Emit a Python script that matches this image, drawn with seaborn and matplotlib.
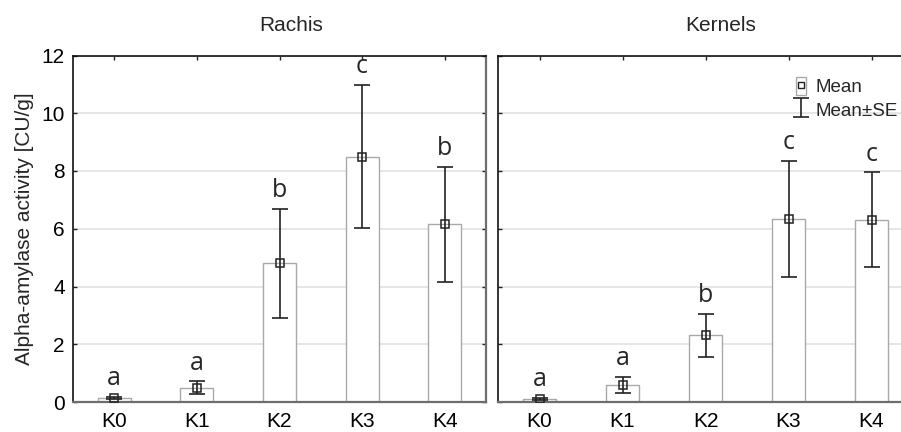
import numpy as np
import pandas as pd
import matplotlib
matplotlib.use("Agg")
import matplotlib.pyplot as plt
import seaborn as sns
from matplotlib.patches import Patch
from matplotlib.lines import Line2D
from matplotlib.legend_handler import HandlerTuple

# dữ liệu
groups = ['K0', 'K1', 'K2', 'K3', 'K4']
rachis_mean = [0.15, 0.50, 4.80, 8.50, 6.15]
rachis_se = [0.04, 0.21, 1.89, 2.48, 2.00]
rachis_letters = ['a', 'a', 'b', 'c', 'b']
kernels_mean = [0.10, 0.59, 2.31, 6.35, 6.32]
kernels_se = [0.04, 0.28, 0.74, 2.01, 1.64]
kernels_letters = ['a', 'a', 'b', 'c', 'c']
panels = ['Rachis', 'Kernels']
y_ticks = [0, 2, 4, 6, 8, 10, 12]

sns.set_style('white')
plt.rcParams['font.family'] = ['Liberation Sans', 'DejaVu Sans']

fig = plt.figure(figsize=(9.01, 4.32), dpi=100)
ax_w = 413 / 901
ax_h = 346.5 / 432
ax_b = 30 / 432
ax1 = fig.add_axes([73 / 901, ax_b, ax_w, ax_h])
ax2 = fig.add_axes([498 / 901, ax_b, 415 / 901, ax_h])

data = [(ax1, rachis_mean, rachis_se, rachis_letters, 0.528),
        (ax2, kernels_mean, kernels_se, kernels_letters, 0.537)]

err_handle = None
for i, (ax, means, se, letters, tx) in enumerate(data):
    df = pd.DataFrame({'group': groups, 'mean': means})
    ax.set_axisbelow(True)
    ax.grid(axis='y', color='#e2e2e2', linewidth=1.2)
    sns.barplot(data=df, x='group', y='mean', ax=ax, width=0.4,
                color='white', edgecolor='#a9a9a9', linewidth=1,
                errorbar=None, zorder=2)
    eb = ax.errorbar(range(len(groups)), means, yerr=se, fmt='none',
                     ecolor='#222222', elinewidth=1.2, capsize=6,
                     capthick=1.2, zorder=3)
    ax.plot(range(len(groups)), means, 's', ms=6, mfc='none', mec='#222222',
            mew=1.1, zorder=4)
    if err_handle is None:
        err_handle = eb
    # chữ cái thống kê
    for x, (m, s, lt) in enumerate(zip(means, se, letters)):
        ax.annotate(lt, (x, m + s), xytext=(0, 4), textcoords='offset points',
                    ha='center', va='bottom', fontsize=18,
                    family=['Open Sans', 'DejaVu Sans'])

    ax.set_ylim(0, 12)
    ax.set_xlim(-0.5, 4.5)
    ax.set_yticks(y_ticks)
    ax.set_xlabel('')
    ax.set_ylabel('')
    ax.tick_params(axis='both', direction='in', length=3, width=1,
                   top=True, bottom=True, left=True, right=True,
                   labelsize=15, colors='#222222', labelcolor='black')
    ax.tick_params(axis='x', pad=7)
    ax.tick_params(axis='y', pad=6)
    for sp in ['top', 'left']:
        ax.spines[sp].set_color('#111111')
        ax.spines[sp].set_linewidth(1.2)
    for sp in ['right', 'bottom']:
        ax.spines[sp].set_color('#6e6e6e')
        ax.spines[sp].set_linewidth(1.6)
    ax.text(tx, 1.087, panels[i], transform=ax.transAxes, ha='center',
            va='center', fontsize=15)

ax1.set_ylabel('Alpha-amylase activity [CU/g]', fontsize=15, labelpad=5)
ax2.tick_params(axis='y', labelleft=False)

mean_handle = (Patch(facecolor='white', edgecolor='#a9a9a9', linewidth=1),
               Line2D([], [], marker='s', ms=4, mfc='none', mec='#222222',
                      mew=1, linestyle='none'))
ax2.legend([mean_handle, err_handle], ['Mean', 'Mean±SE'],
           handler_map={tuple: HandlerTuple(ndivide=1, pad=0)},
           loc='upper left', bbox_to_anchor=(0.695, 0.965), frameon=False,
           fontsize=13.5, handlelength=0.55, handleheight=1.1, handletextpad=0.5,
           labelspacing=0.2, borderpad=0)

plt.savefig('out.png', dpi=100)
plt.close()
